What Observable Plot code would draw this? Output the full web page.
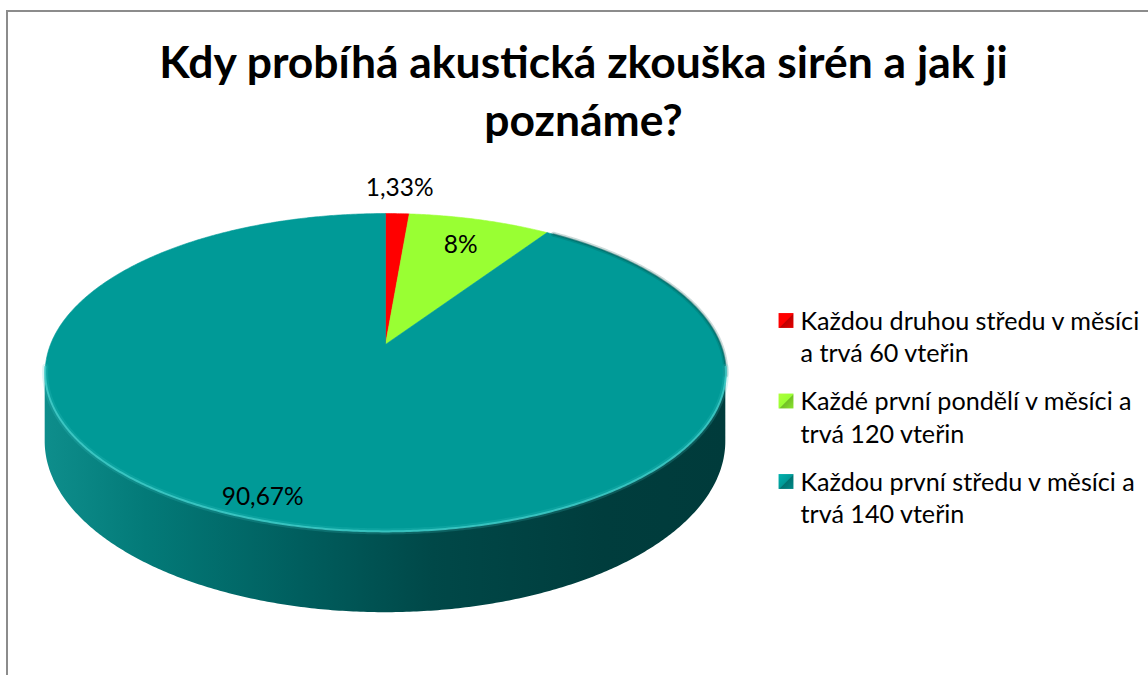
<!DOCTYPE html>
<html><head><meta charset="utf-8">
<script src="https://cdn.jsdelivr.net/npm/d3@7"></script>
<script src="https://cdn.jsdelivr.net/npm/@observablehq/plot@0.6"></script>
<style>
html,body{margin:0;padding:0;background:#fff;}
#wrap{position:relative;width:1148px;height:675px;overflow:hidden;background:#fff;}
#frame{position:absolute;left:6px;top:10px;width:1300px;height:800px;border-left:2px solid #8c8c8c;border-top:2px solid #8c8c8c;}
#chart{position:absolute;left:0;top:0;}
</style></head><body>
<div id="wrap"><div id="frame"></div><div id="chart"></div></div>
<script>
// ---- data ----
const titleLines = ["Kdy probíhá akustická zkouška sirén a jak ji", "poznáme?"];
const categories = [
  "Každou druhou středu v měsíci a trvá 60 vteřin",
  "Každé první pondělí v měsíci a trvá 120 vteřin",
  "Každou první středu v měsíci a trvá 140 vteřin"
];
const legendLines = [
  ["Každou druhou středu v měsíci", "a trvá 60 vteřin"],
  ["Každé první pondělí v měsíci a", "trvá 120 vteřin"],
  ["Každou první středu v měsíci a", "trvá 140 vteřin"]
];
const values = [1.33, 8, 90.67];
const colors = ["#FF0000", "#99FF33", "#009A97"];
const labelRadius = [1.24, 0.77, 0.9];
const labelAngleShift = [0, 0, 3.5];

// ---- layout / style ----
const W = 1148, H = 675;
const FONT = "Lato";
const CX = 385, CY = 344, SX = 335, SY = 154, A = 0.176, DEPTH = 67;

const ctx = document.createElement("canvas").getContext("2d");
function fit(text, weight, target) {
  ctx.font = `${weight} 100px ${FONT}`;
  return 100 * target / ctx.measureText(text).width;
}
const titleSize = fit(titleLines[0], "bold", 850);
const labelSize = fit("90,67%", "normal", 82);
const legendSize = fit(legendLines[0][0], "normal", 340);

// perspective projection of a point on the disk (theta deg clockwise from top)
function proj(theta, r = 1) {
  const t = theta * Math.PI / 180;
  const u = r * Math.sin(t), v = r * Math.cos(t);
  const d = 1 + A * v;
  return {x: CX + SX * u / d, y: CY - SY * v / d, d};
}
function rim(a0, a1) {
  const n = Math.max(2, Math.ceil(Math.abs(a1 - a0) / 0.5));
  return d3.range(n + 1).map(k => proj(a0 + (a1 - a0) * k / n));
}

const total = d3.sum(values);
const angles = values.map(v => v / total * 360);
const starts = angles.map((a, i) => d3.sum(angles.slice(0, i)));
const fmt = v => v.toLocaleString("cs-CZ") + "%";

const slices = values.map((v, i) => [{x: CX, y: CY}, ...rim(starts[i], starts[i] + angles[i]), {x: CX, y: CY}]);

const silR = Math.acos(-A) * 180 / Math.PI;
const silL = 360 - silR;
const side = rim(silR, silL).map(p => ({x: p.x, top: p.y, bot: p.y + DEPTH / p.d}));
const frontRim = rim(silR - 2, silL + 2);
const backRightRim = rim(35, silR + 1);

const labelData = values.map((v, i) => {
  const p = proj(starts[i] + angles[i] / 2 + labelAngleShift[i], labelRadius[i]);
  return {x: p.x, y: p.y, text: fmt(v)};
});

const LX = 800, LY0 = 329, LSTEP = 80.5, LLINE = 32.5;
const legendText = legendLines.flatMap((lines, i) => lines.map((t, j) => ({x: LX, y: LY0 + i * LSTEP + j * LLINE, text: t})));
const legendMarks = categories.map((c, i) => ({x: LX - 14.5, y: LY0 + i * LSTEP - 9, i}));

const titleData = titleLines.map((t, i) => ({x: 583, y: 77 + i * 58, text: t}));

const chart = Plot.plot({
  width: W, height: H, margin: 0,
  x: {domain: [0, W], range: [0, W], axis: null},
  y: {domain: [0, H], range: [0, H], axis: null},
  style: {background: "transparent", overflow: "visible"},
  marks: [
    Plot.areaY(side, {x: "x", y1: "top", y2: "bot", fill: "url(#sideGrad)"}),
    ...slices.map((s, i) => Plot.line(s, {x: "x", y: "y", fill: colors[i], stroke: colors[i], strokeWidth: 0.6})),
    Plot.line(backRightRim, {x: "x", y: "y", stroke: "#004f4d", strokeWidth: 5, strokeOpacity: 0.2}),
    Plot.line(backRightRim, {x: "x", y: "y", stroke: "#004f4d", strokeWidth: 2, strokeOpacity: 0.4}),
    Plot.line(frontRim, {x: "x", y: "y", stroke: "#3cc9c6", strokeWidth: 6, strokeOpacity: 0.2}),
    Plot.line(frontRim, {x: "x", y: "y", stroke: "#3fcac7", strokeWidth: 2, strokeOpacity: 0.85}),
    Plot.text(labelData, {x: "x", y: "y", text: "text", fontFamily: FONT, fontSize: labelSize, fill: "#000"}),
    ...legendMarks.map(m => Plot.dot([m], {x: "x", y: "y", symbol: "square", r: 8.4, fill: `url(#mk${m.i})`})),
    Plot.text(legendText, {x: "x", y: "y", text: "text", textAnchor: "start", lineAnchor: "bottom", fontFamily: FONT, fontSize: legendSize, fill: "#000"}),
    Plot.text(titleData, {x: "x", y: "y", text: "text", lineAnchor: "bottom", fontFamily: FONT, fontWeight: "bold", fontSize: titleSize, fill: "#000"})
  ]
});

const svg = d3.select(chart);
const defs = svg.insert("defs", ":first-child");
const g = defs.append("linearGradient").attr("id", "sideGrad").attr("gradientUnits", "userSpaceOnUse")
  .attr("x1", CX - SX * 1.02).attr("x2", CX + SX * 1.02).attr("y1", 0).attr("y2", 0);
[[0, "#0e8e8c"], [0.15, "#037a78"], [0.375, "#005e5e"], [0.57, "#004848"], [0.82, "#003d3d"], [1, "#003b3b"]]
  .forEach(([o, c]) => g.append("stop").attr("offset", o).attr("stop-color", c));
colors.forEach((c, i) => {
  const lg = defs.append("linearGradient").attr("id", `mk${i}`).attr("x1", 0).attr("y1", 0).attr("x2", 1).attr("y2", 1);
  lg.append("stop").attr("offset", 0).attr("stop-color", d3.color(c).brighter(0.4).formatHex());
  lg.append("stop").attr("offset", 0.5).attr("stop-color", c);
  lg.append("stop").attr("offset", 0.55).attr("stop-color", d3.color(c).darker(0.8).formatHex());
  lg.append("stop").attr("offset", 1).attr("stop-color", d3.color(c).darker(0.3).formatHex());
});
document.getElementById("chart").appendChild(chart);
</script>
</body></html>
